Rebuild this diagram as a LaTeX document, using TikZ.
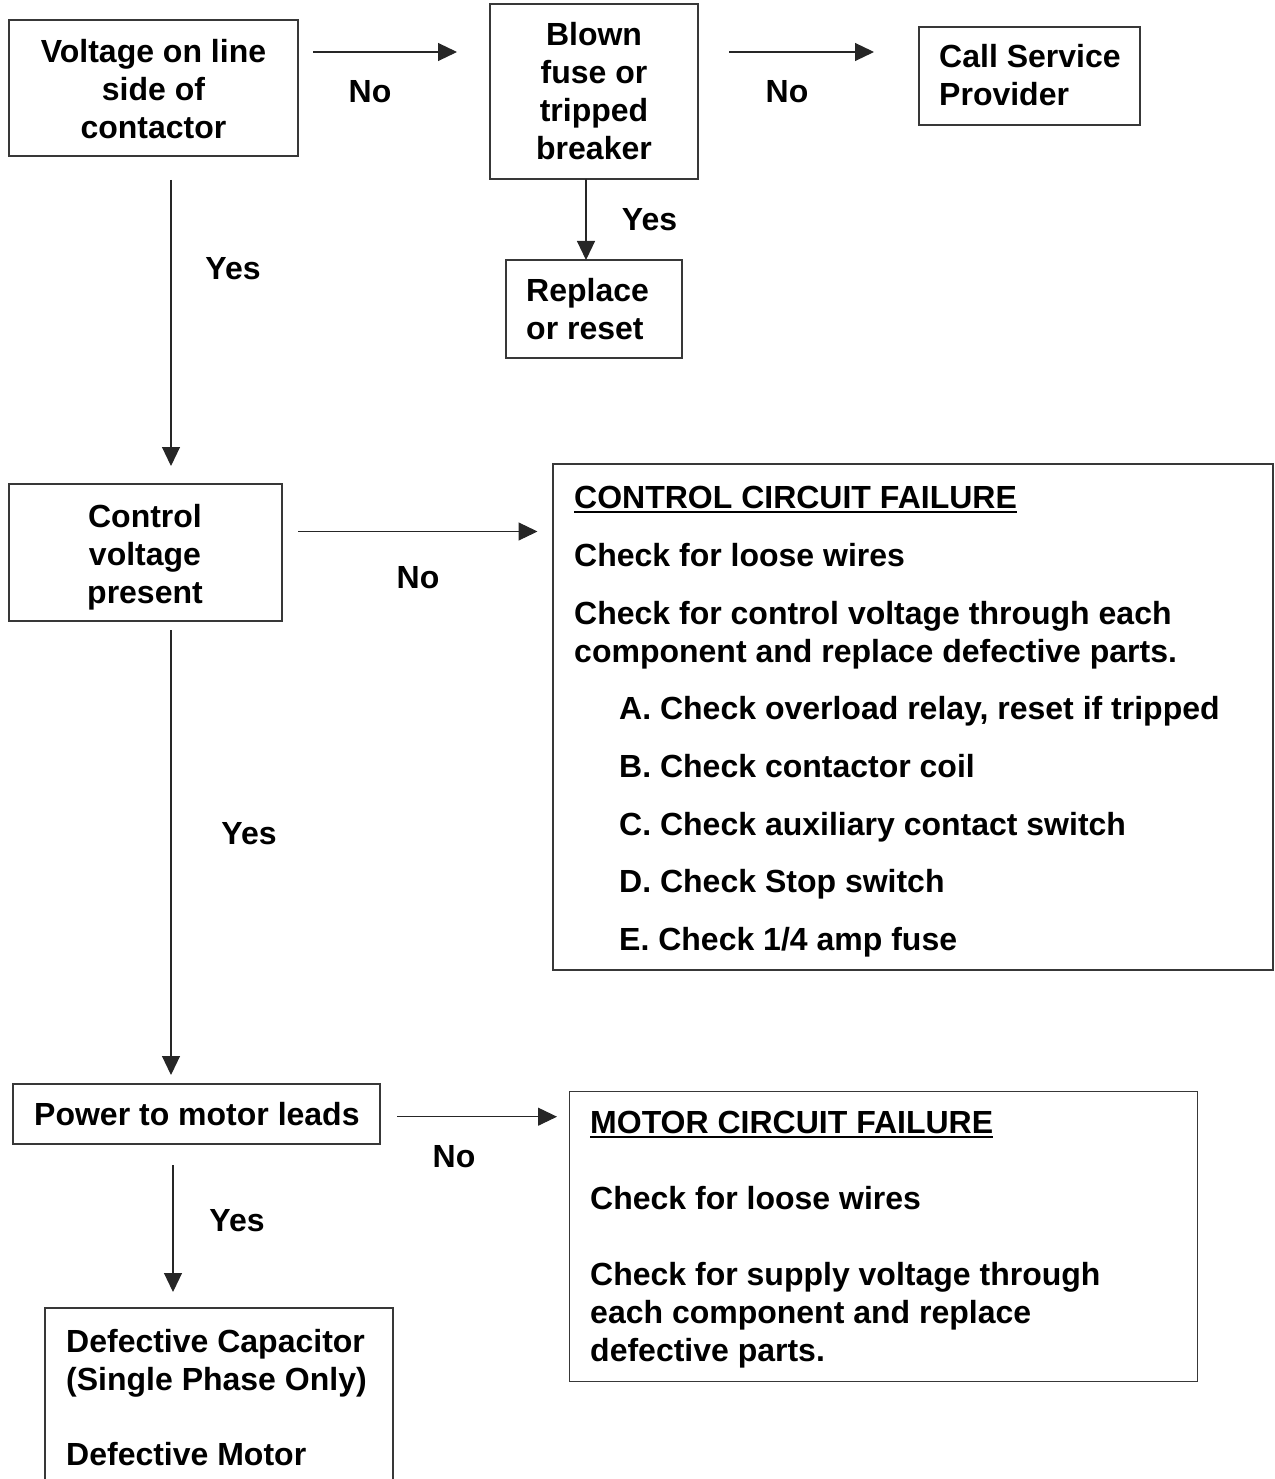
\documentclass[tikz,border=0pt]{standalone}
\usepackage{fontspec}
\setmainfont{Liberation Sans}
\usetikzlibrary{arrows.meta,calc}
\newcommand{\myul}[1]{\setbox0\hbox{#1}\rlap{\rule[-4.5pt]{\wd0}{2pt}}\box0}
\tikzset{
  box/.style={draw=black!78, line width=1.2pt, rectangle, inner sep=0pt, outer sep=0pt, anchor=north west},
  txt/.style={inner sep=0pt, font=\fontsize{32}{38}\selectfont\bfseries},
  arr/.style={draw=black!85, line width=1.1pt, -{Triangle[length=19pt,width=18pt]}},
  lbl/.style={txt, anchor=base}
}
\begin{document}
\begin{tikzpicture}[x=1pt,y=-1pt]
\useasboundingbox (0,0) rectangle (1274,1479);
\clip (0,0) rectangle (1274,1479);
% boxes
\node[box, minimum width=289pt, minimum height=136pt] (v1) at (9,20) {};
\node[box, minimum width=208pt, minimum height=175pt] (bl) at (490,4) {};
\node[box, minimum width=221pt, minimum height=98pt] (call) at (919,27) {};
\node[box, minimum width=176pt, minimum height=98pt] (rep) at (506,260) {};
\node[box, minimum width=273pt, minimum height=137pt] (cv) at (9,484) {};
\node[box, minimum width=720pt, minimum height=506pt] (ccf) at (553,464) {};
\node[box, minimum width=367pt, minimum height=60pt] (pw) at (13,1084) {};
\node[box, minimum width=628pt, minimum height=290pt] (mcf) at (569.5,1091.7) {};
\node[box, minimum width=348pt, minimum height=200pt] (def) at (45,1308) {};
% texts (anchor base = baseline of the last line)
\node[txt, align=center, anchor=base] (v1t) at (153.5,139) {Voltage on line\\side of\\contactor};
\node[txt, align=center, anchor=base] (blt) at (594,160) {Blown\\fuse or\\tripped\\breaker};
\node[txt, align=left, anchor=base west] (callt) at (939,106) {Call Service\\Provider};
\node[txt, align=left, anchor=base west] (rept) at (526,339.5) {Replace\\or reset};
\node[txt, align=center, anchor=base] (cvt) at (145,603) {Control\\voltage\\present};
\node[txt, align=left, anchor=base west] (ccft) at (574,950.5) {\myul{CONTROL CIRCUIT FAILURE}\\[19.7pt]
Check for loose wires\\[19.7pt]
Check for control voltage through each\\
component and replace defective parts.\\[19.7pt]
\hspace*{45pt}A. Check overload relay, reset if tripped\\[19.7pt]
\hspace*{45pt}B. Check contactor coil\\[19.7pt]
\hspace*{45pt}C. Check auxiliary contact switch\\[19.7pt]
\hspace*{45pt}D. Check Stop switch\\[19.7pt]
\hspace*{45pt}E. Check 1/4 amp fuse};
\node[txt, align=left, anchor=base west] (pwt) at (34,1125) {Power to motor leads};
\node[txt, align=left, anchor=base west] (mcft) at (590,1361.5) {\myul{MOTOR CIRCUIT FAILURE}\\[38pt]
Check for loose wires\\[38pt]
Check for supply voltage through\\
each component and replace\\
defective parts.};
\node[txt, align=left, anchor=base west] (deft) at (66,1465) {Defective Capacitor\\(Single Phase Only)\\[37pt]Defective Motor};
% connectors
\draw[arr] ($(v1.north east)+(15,32)$) -- ($(bl.north west)+(-33,48)$);
\draw[arr] ($(bl.north east)+(31,48)$) -- ($(call.north west)+(-45,25)$);
\draw[arr] ($(bl.south west)+(96,0)$) -- ($(rep.north west)+(80,0)$);
\draw[arr] ($(v1.south west)+(162,24)$) -- ($(cv.north west)+(162,-18)$);
\draw[arr] ($(cv.north east)+(16,47.5)$) -- ($(ccf.north west)+(-15.5,67.5)$);
\draw[arr] ($(cv.south west)+(162,9.3)$) -- ($(pw.north west)+(158,-9)$);
\draw[arr] ($(pw.north east)+(17,32.7)$) -- ($(mcf.north west)+(-12.5,25)$);
\draw[arr] ($(pw.south west)+(160,21)$) -- ($(def.north west)+(128,-16)$);
% labels
\node[lbl] (no1) at (370,103) {No};
\node[lbl] (no2) at (787,103) {No};
\node[lbl] (yes0) at (649.5,231) {Yes};
\node[lbl] (yes1) at (233,279) {Yes};
\node[lbl] (no3) at (418,588) {No};
\node[lbl] (yes2) at (249,844) {Yes};
\node[lbl] (no4) at (454,1167.5) {No};
\node[lbl] (yes3) at (237,1231) {Yes};
\end{tikzpicture}
\end{document}
